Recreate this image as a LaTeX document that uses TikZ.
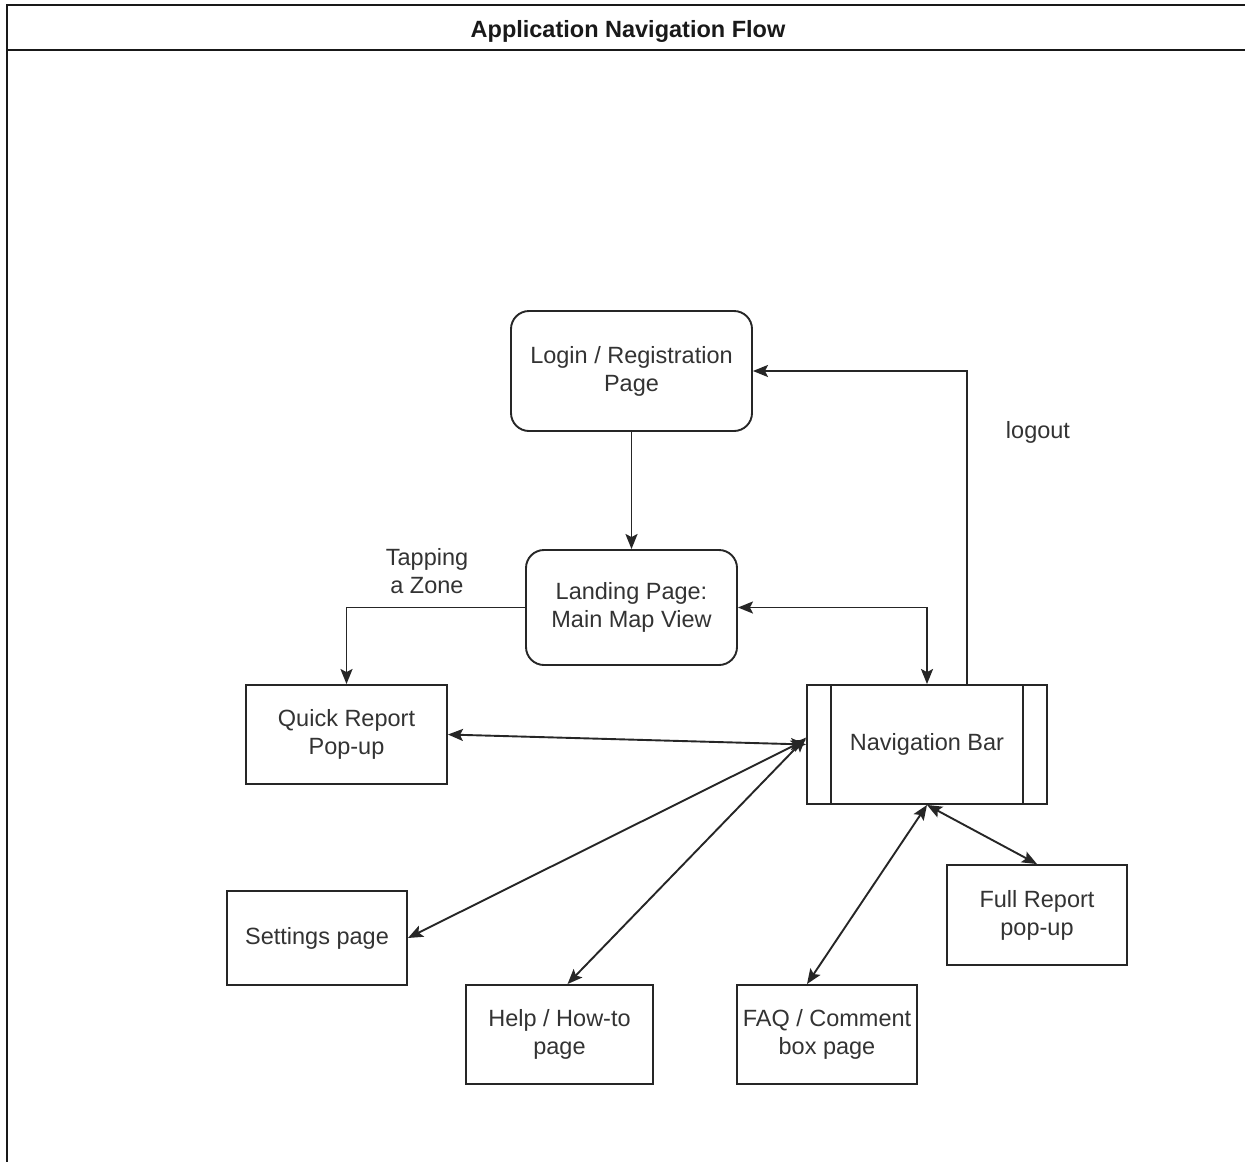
\documentclass[tikz,border=0pt]{standalone}
\usepackage{fontspec}
\setmainfont{Liberation Sans}
\usetikzlibrary{arrows.meta}
\begin{document}
\begin{tikzpicture}[x=1pt,y=-1pt,
  line width=1.9pt,
  txt/.style={text=black!80, font=\fontsize{23.5}{28}\selectfont, align=center},
  box/.style={draw=black!85, txt, inner sep=0pt},
  rbox/.style={box, rounded corners=18pt},
  conn/.style={draw=black!85, -{Stealth[length=15pt,width=12pt,inset=3pt]}},
  biconn/.style={draw=black!85, {Stealth[length=15pt,width=12pt,inset=3pt]}-{Stealth[length=15pt,width=12pt,inset=3pt]}},
  lbl/.style={txt}
]
\useasboundingbox (0,0) rectangle (1245,1162);
\fill[white] (0,0) rectangle (1245,1162);
\begin{scope}
\clip (0,0) rectangle (1245,1162);
% outer container with title bar
\draw[black!90, line width=2pt] (7,5) rectangle (1270,1190);
\draw[black!90, line width=2pt] (7,50) -- (1270,50);
\end{scope}
\node[font=\fontsize{23.5}{28}\selectfont\bfseries, text=black!90] (title) at (628,31) {Application Navigation Flow};

% pages
\node[rbox, minimum width=241pt, minimum height=120pt] (login) at (631.5,371) {Login / Registration\\Page};
\node[rbox, minimum width=211pt, minimum height=115pt] (landing) at (631.5,607.5) {Landing Page:\\Main Map View};
\node[box, minimum width=201pt, minimum height=99pt] (quick) at (346.5,734.5) {Quick Report\\Pop-up};
\node[box, minimum width=240pt, minimum height=119pt] (nav) at (927,744.5) {Navigation Bar};
\draw[black!85] (831,685) -- (831,804) (1023,685) -- (1023,804);
\node[box, minimum width=180pt, minimum height=94pt] (settings) at (317,938) {Settings page};
\node[box, minimum width=187pt, minimum height=99pt] (help) at (559.5,1034.5) {Help / How-to\\page};
\node[box, minimum width=180pt, minimum height=99pt] (faq) at (827,1034.5) {FAQ / Comment\\box page};
\node[box, minimum width=180pt, minimum height=100pt] (full) at (1037,915) {Full Report\\pop-up};

% connectors
\draw[conn] (login.south) -- (landing.north);
\draw[conn] (landing.west) -| (quick.north);
\node[lbl] (tap) at (427,571) {Tapping\\a Zone};
\draw[biconn] (landing.east) -| (nav.north);
\coordinate (navtop) at (967,685);
\draw[conn] (navtop) |- (login.east);
\node[lbl] (logout) at (1038,432) {logout};
\draw[biconn] (quick.east) -- (nav.west);
\draw[biconn] (settings.east) -- ([yshift=5pt]nav.west);
\draw[biconn] ([xshift=8pt]help.north) -- ([yshift=7pt]nav.west);
\draw[biconn] ([xshift=-20pt]faq.north) -- (nav.south);
\draw[biconn] (full.north) -- (nav.south);
\end{tikzpicture}
\end{document}
